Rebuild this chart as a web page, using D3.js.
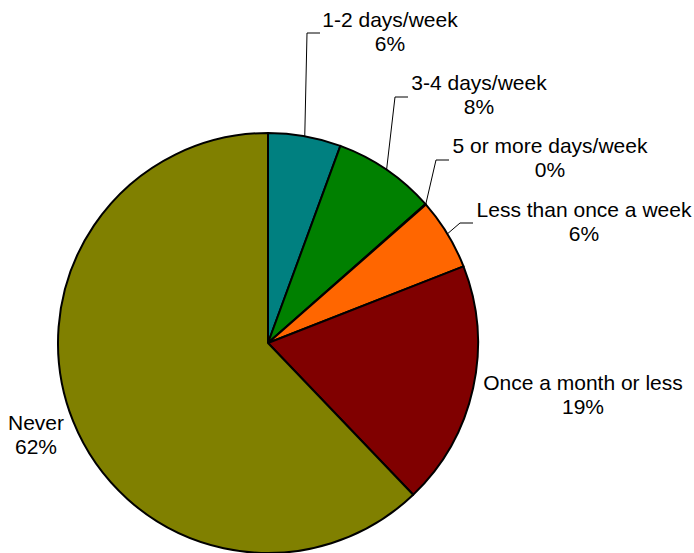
<!DOCTYPE html>
<html><head><meta charset="utf-8">
<script src="https://cdn.jsdelivr.net/npm/d3@7"></script>
<style>body{margin:0;background:#fff}svg{display:block}text{font-family:"Liberation Sans",Arial,sans-serif;font-size:21px;fill:#000}</style>
</head><body><svg id="c" width="694" height="553"></svg>
<script>
const categories = ["1-2 days/week","3-4 days/week","5 or more days/week","Less than once a week","Once a month or less","Never"];
const values = [5.6, 7.9, 0.05, 5.5, 18.8, 62.15];
const colors = ["#008080","#008000","#3366ff","#ff6600","#800000","#808000"];
// label layout: text centre x, first baseline y, and leader elbow (null = no leader)
const labelPos = [[390,27],[479,90],[550,153],[584,217],[583,390],[36,430]];
const elbows = [[307,33],[395,97],[436,160],[460,223],null,null];

const cx = 268, cy = 343, R = 210;
const svg = d3.select("#c");
const g = svg.append("g").attr("transform",`translate(${cx},${cy})`);
const total = d3.sum(values);
const pie = d3.pie().sort(null).value(d=>d)(values);
const arc = d3.arc().innerRadius(0).outerRadius(R);
g.selectAll("path.s").data(pie).join("path").attr("class","s")
  .attr("d",arc).attr("fill",(d,i)=>colors[i]).attr("stroke","#000").attr("stroke-width",2).attr("stroke-linejoin","round");

pie.forEach((d,i)=>{
  const e = elbows[i];
  if(!e) return;
  const a = (d.startAngle+d.endAngle)/2;
  const sx = cx + R*Math.sin(a), sy = cy - R*Math.cos(a);
  svg.append("polyline").attr("points",`${sx},${sy} ${e[0]},${e[1]} ${e[0]+13},${e[1]}`)
    .attr("fill","none").attr("stroke","#000").attr("stroke-width",1);
});
pie.forEach((d,i)=>{
  const [x,y] = labelPos[i];
  const t = svg.append("text").attr("text-anchor","middle");
  t.append("tspan").attr("x",x).attr("y",y).text(categories[i]);
  t.append("tspan").attr("x",x).attr("y",y+24).text(Math.round(values[i]/total*100)+"%");
});
</script></body></html>
